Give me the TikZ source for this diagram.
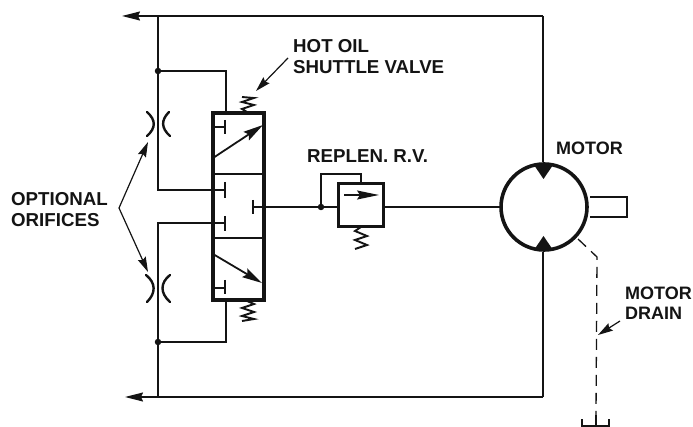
\documentclass[tikz,border=0pt]{standalone}
\usepackage{fontspec}
\setmainfont{Liberation Sans}
\usetikzlibrary{arrows.meta,calc}
\tikzset{
  lbl/.style={font=\fontsize{18}{20.5}\selectfont\bfseries, inner sep=0pt, align=left, text=ink},
  lblwide/.style={font=\fontsize{18.7}{21}\selectfont\bfseries, inner sep=0pt, align=left, text=ink},
  thin line/.style={line width=1.3pt, draw=ink},
  heavy/.style={line width=3.2pt, draw=ink, line join=miter},
  springline/.style={line width=1.9pt, draw=ink, line join=miter},
  pointer/.style={line width=1.2pt, draw=ink, -{Stealth[length=15pt,width=8.5pt,inset=2pt]}},
  flowtip/.style={line width=1.4pt, draw=ink, -{Stealth[length=18pt,width=9pt,inset=2pt]}},
  junction/.style={circle, fill=ink, inner sep=0pt, minimum size=6.5pt},
  portbar/.style={line width=1.8pt, draw=ink},
  arcline/.style={line width=2.4pt, draw=ink, line cap=round},
  drain/.style={line width=1.3pt, draw=ink, dash pattern=on 11pt off 7pt},
  motorbody/.style={circle, draw=ink, line width=3.6pt, minimum size=86pt, inner sep=0pt, fill=white},
}
\definecolor{ink}{HTML}{141414}
\begin{document}
\begin{tikzpicture}[x=1pt,y=-1pt]
\useasboundingbox (0,0) rectangle (693,427);
% key points
\coordinate (topleft) at (122,16);
\coordinate (topright) at (543,16);
\coordinate (botleft) at (125,397);
\coordinate (botright) at (543,397);
\coordinate (topbus) at (158,16);
\coordinate (botbus) at (158,397);
\node[junction] (j1) at (158,71) {};
\node[junction] (j2) at (158,342) {};
\node[junction] (j3) at (321,207) {};
\coordinate (t1) at (158,190);
\coordinate (t2) at (158,223);
% motor
\draw[line width=1.8pt, draw=ink] (590,197) -- (627,197) -- (627,217) -- (590,217);
\node[motorbody] (motor) at (544,207) {};
\fill[ink] (534,165) -- (553,165) -- (543.5,179) -- cycle;
\fill[ink] (534,250) -- (553,250) -- (543.5,236) -- cycle;
% main lines
\draw[flowtip] (topright) -- (topleft);
\draw[flowtip] (botright) -- (botleft);
\draw[thin line] (topright) -- (motor.north -| topright);
\draw[thin line] (botright) -- (motor.south -| botright);
\draw[thin line] (topbus) -- (t1) -- (225,190);
\draw[thin line] (botbus) -- (t2) -- (225,223);
\draw[thin line] (j1) -- (226,71) -- (226,113);
\draw[thin line] (j2) -- (226,342) -- (226,300);
% valve
\draw[heavy] (213,113) rectangle (264,300);
\draw[line width=2pt, draw=ink] (213,174) -- (264,174);
\draw[line width=2pt, draw=ink] (213,238) -- (264,238);
\draw[portbar] (213,127) -- (225,127);
\draw[portbar] (225,120) -- (225,134);
\draw[portbar] (225,182) -- (225,198);
\draw[portbar] (225,216) -- (225,231);
\draw[portbar] (213,288) -- (225,288);
\draw[portbar] (225,280) -- (225,294);
\draw[line width=1.8pt, draw=ink, -{Stealth[length=20pt,width=10pt,inset=3pt]}] (213,158) -- (263,125);
\draw[line width=1.8pt, draw=ink, -{Stealth[length=20pt,width=10pt,inset=3pt]}] (213,254) -- (262,283);
% springs
\draw[springline] (247,112) -- (242,109) -- (254,105) -- (242,102) -- (254,98) -- (242,97);
\draw[springline] (247,301) -- (254,304) -- (242,308) -- (254,312) -- (242,316) -- (254,319) -- (242,321);
\draw[springline] (361,227) -- (355,231) -- (367,236) -- (355,240) -- (367,245) -- (355,249);
% replen valve
\draw[portbar] (253,200) -- (253,214);
\node[draw=ink, line width=3pt, minimum width=45pt, minimum height=43pt, inner sep=0pt] (rv) at (360.5,205.5) {};
\draw[thin line] (253,207) -- (j3) -- (rv.west |- j3);
\draw[thin line] (rv.east |- j3) -- (motor.west |- j3);
\draw[thin line] (j3) -- (321,174) -- (361,174) -- (361,184);
\draw[line width=1.5pt, draw=ink, -{Stealth[length=22pt,width=9pt,inset=3pt]}] (344,195) -- (379,195);
% orifices
\draw[arcline] (147,112) .. controls (156,120) and (156,128) .. (147,136);
\draw[arcline] (169,112) .. controls (161,120) and (161,128) .. (170,136);
\draw[arcline] (146,275) .. controls (156,283) and (156,293) .. (147,302);
\draw[arcline] (170,275) .. controls (160,283) and (160,293) .. (170,302);
% drain
\coordinate (drainbend) at (597,257);
\coordinate (tanktop) at (596,415);
\draw[drain] (578,239) -- (drainbend) -- (tanktop);
\draw[thin line] (582,419) -- (582,426) -- (609,426) -- (609,419);
\draw[thin line] (596,415) -- (596,426);
% labels
\node[lblwide, anchor=west] (optional) at (11,209.5) {OPTIONAL\\ORIFICES};
\node[lblwide, anchor=west] (hot) at (293,56.5) {HOT OIL\\SHUTTLE VALVE};
\node[lblwide, anchor=west] (replen) at (307,156) {REPLEN. R.V.};
\node[lbl, anchor=west] (motorlbl) at (556,148) {MOTOR};
\node[lbl, anchor=west] (drainlbl) at (625,303) {MOTOR\\DRAIN};
\coordinate (fork) at (119,208);
\draw[pointer] (fork) -- (148,142);
\draw[pointer] (fork) -- (148,272);
\draw[pointer] (288,58) -- (256,91);
\draw[pointer] (620,321) -- (598,335);
\end{tikzpicture}
\end{document}
